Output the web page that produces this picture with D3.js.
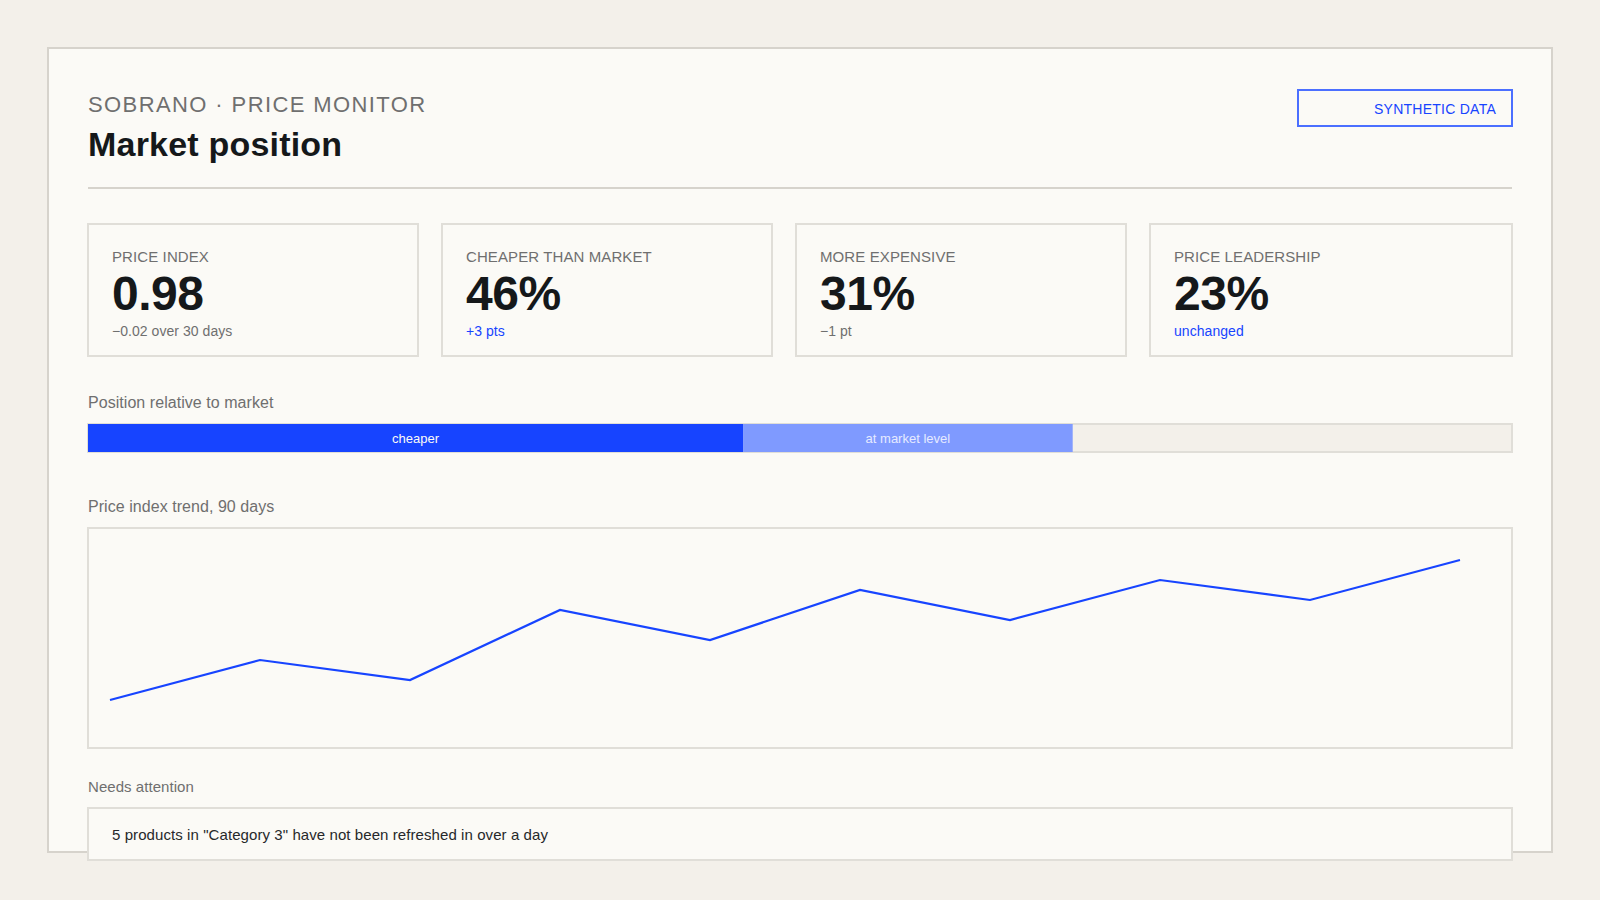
<!DOCTYPE html>
<meta charset="utf-8">
<head>
<script src="https://d3js.org/d3.v7.min.js"></script>
<style>
  html, body { margin: 0; padding: 0; background: #f3f0ea; overflow: hidden; }
  svg { display: block; }
  text { font-family: "Liberation Sans", Arial, sans-serif; }
</style>
</head>
<body>
<div id="my_dataviz"></div>

<script>

// KPI cards
var cardLabels = ["PRICE INDEX", "CHEAPER THAN MARKET", "MORE EXPENSIVE", "PRICE LEADERSHIP"]
var cardValues = ["0.98", "46%", "31%", "23%"]
var cardNotes = ["\u22120.02 over 30 days", "+3 pts", "\u22121 pt", "unchanged"]

// stacked position bar
var barLabels = ["cheaper", "at market level", ""]
var barValues = [46, 23.15, 30.85]

// price index trend, 90 days
var trendDays = [0, 10, 20, 30, 40, 50, 60, 70, 80, 90]
var trendValues = [0.91, 0.93, 0.92, 0.955, 0.94, 0.965, 0.95, 0.97, 0.96, 0.98]

var blue = "#1744ff", midBlue = "#7f9aff", ink = "#15181a", grey = "#6f6f6f"
var panelBg = "#fbfaf6", pageBg = "#f3f0ea", panelLine = "#d6d3cc", cardLine = "#e0ded8"

var svg = d3.select("#my_dataviz")
  .append("svg")
    .attr("width", 1600)
    .attr("height", 900)

// outer panel
svg.append("rect")
    .attr("x", 48).attr("y", 48)
    .attr("width", 1504).attr("height", 804)
    .attr("fill", panelBg)
    .attr("stroke", panelLine)
    .attr("stroke-width", 2)

function label(x, y, txt, size, color) {
  return svg.append("text")
    .attr("x", x).attr("y", y)
    .attr("font-size", size)
    .attr("fill", color)
    .text(txt)
}

// header
label(88, 112, "SOBRANO \u00b7 PRICE MONITOR", 22, grey).attr("letter-spacing", "1.4px")
label(88, 156, "Market position", 34, ink)
    .attr("font-weight", 700)
    .attr("letter-spacing", "0.2px")

svg.append("rect")
    .attr("x", 1298).attr("y", 90)
    .attr("width", 214).attr("height", 36)
    .attr("fill", "none")
    .attr("stroke", "#4b6fff")
    .attr("stroke-width", 2)
label(1496, 114, "SYNTHETIC DATA", 14, blue)
    .attr("text-anchor", "end")
    .attr("letter-spacing", "0.25px")

svg.append("line")
    .attr("x1", 88).attr("x2", 1512)
    .attr("y1", 188).attr("y2", 188)
    .attr("stroke", panelLine)
    .attr("stroke-width", 2)

// cards (last one is wider)
var cardX = [88, 442, 796, 1150]
var cardW = [330, 330, 330, 362]

var cards = svg.selectAll(".card")
  .data(cardLabels)
  .enter()
  .append("g")
    .attr("class", "card")
    .attr("transform", function(d, i) { return "translate(" + cardX[i] + ",224)" })

cards.append("rect")
    .attr("width", function(d, i) { return cardW[i] })
    .attr("height", 132)
    .attr("fill", panelBg)
    .attr("stroke", cardLine)
    .attr("stroke-width", 2)

cards.append("text")
    .attr("x", 24).attr("y", 38)
    .attr("font-size", 15)
    .attr("letter-spacing", "0.1px")
    .attr("fill", grey)
    .text(function(d) { return d })

cards.append("text")
    .attr("x", 24).attr("y", 86)
    .attr("font-size", 48)
    .attr("font-weight", 700)
    .attr("letter-spacing", "-0.5px")
    .attr("fill", ink)
    .text(function(d, i) { return cardValues[i] })

cards.append("text")
    .attr("x", 24).attr("y", 112)
    .attr("font-size", 14)
    .attr("letter-spacing", "0.05px")
    .attr("fill", function(d, i) { return (i == 1 || i == 3) ? blue : grey })
    .text(function(d, i) { return cardNotes[i] })

// position bar
label(88, 408, "Position relative to market", 16, grey).attr("letter-spacing", "0.05px")

var x = d3.scaleLinear()
  .domain([0, d3.sum(barValues)])
  .range([88, 1512])

var starts = d3.cumsum([0].concat(barValues))

svg.append("rect")
    .attr("x", x(0)).attr("y", 424)
    .attr("width", x(100) - x(0)).attr("height", 28)
    .attr("fill", pageBg)
    .attr("stroke", cardLine)
    .attr("stroke-width", 2)

var barColors = [blue, midBlue, "none"]
var barTextColors = ["#fbfaf6", "#e6eaff", "none"]

svg.selectAll(".seg")
  .data(barValues)
  .enter()
  .append("rect")
    .attr("class", "seg")
    .attr("x", function(d, i) { return x(starts[i]) })
    .attr("y", 424)
    .attr("width", function(d) { return x(d) - x(0) })
    .attr("height", 28)
    .attr("fill", function(d, i) { return barColors[i] })

svg.selectAll(".segLabel")
  .data(barValues)
  .enter()
  .append("text")
    .attr("class", "segLabel")
    .attr("x", function(d, i) { return x(starts[i] + d / 2) })
    .attr("y", 443)
    .attr("text-anchor", "middle")
    .attr("font-size", 13)
    .attr("fill", function(d, i) { return barTextColors[i] })
    .text(function(d, i) { return barLabels[i] })

// trend chart
label(88, 512, "Price index trend, 90 days", 16, grey).attr("letter-spacing", "0.05px")

svg.append("rect")
    .attr("x", 88).attr("y", 528)
    .attr("width", 1424).attr("height", 220)
    .attr("fill", panelBg)
    .attr("stroke", cardLine)
    .attr("stroke-width", 2)

var xTrend = d3.scaleLinear()
  .domain([0, 90])
  .range([110, 1460])

var yTrend = d3.scaleLinear()
  .domain([0.91, 0.98])
  .range([700, 560])

svg.append("path")
    .datum(trendValues)
    .attr("d", d3.line()
      .x(function(d, i) { return xTrend(trendDays[i]) })
      .y(function(d) { return yTrend(d) })
    )
    .attr("fill", "none")
    .attr("stroke", blue)
    .attr("stroke-width", 2.2)

// alert
label(88, 792, "Needs attention", 15, grey).attr("letter-spacing", "0.05px")

svg.append("rect")
    .attr("x", 88).attr("y", 808)
    .attr("width", 1424).attr("height", 52)
    .attr("fill", panelBg)
    .attr("stroke", cardLine)
    .attr("stroke-width", 2)

label(112, 840, "5 products in \"Category 3\" have not been refreshed in over a day", 15, "#26282a")
    .attr("letter-spacing", "0.08px")

</script>
</body>
